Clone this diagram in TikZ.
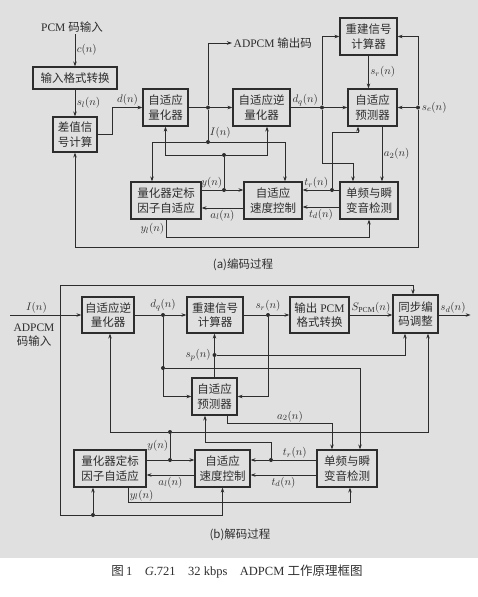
\documentclass[tikz,border=0pt]{standalone}
\usepackage{fontspec}
\setmainfont{Liberation Serif}
\newfontfamily\cn{Noto Sans CJK SC}
\usetikzlibrary{arrows.meta,positioning,calc}
\definecolor{scanbg}{RGB}{224,224,224}
\definecolor{ink}{RGB}{45,45,45}

\begin{document}
\begin{tikzpicture}[x=1pt,y=-1pt,
  blk/.style={draw=ink, line width=1.2pt, inner sep=1pt, align=center, text=ink,
    font=\cn\fontsize{11.5}{14.5}\selectfont},
  sig/.style={draw=ink, line width=0.7pt},
  arr/.style={sig, -{Stealth[length=5pt,width=3.5pt]}},
  lbl/.style={font=\fontsize{11}{13}\selectfont, text=ink, inner sep=1.5pt},
  captxt/.style={font=\cn\fontsize{11.5}{14}\selectfont, text=ink},
  jn/.style={circle, fill=ink, inner sep=0pt, minimum size=4pt}]
  \useasboundingbox (0,0) rectangle (478,597);
  \fill[scanbg] (0,0) rectangle (478,558);

  % (a) encoder
  \node[lbl, font=\fontsize{11.5}{14}\selectfont] (pcmIn) at (72,27) {PCM {\cn 码输入}};
  \node[blk, minimum width=84pt, minimum height=22pt] (inFmt) at (75,78) {输入格式转换};
  \node[blk, minimum width=44pt, minimum height=35pt] (diffCalc) at (75,134.5) {差值信\\号计算};
  \node[blk, minimum width=45pt, minimum height=37pt] (quant) at (165.5,107.5) {自适应\\量化器};
  \node[blk, minimum width=57pt, minimum height=37pt] (invQ) at (261.5,107.5) {自适应逆\\量化器};
  \node[blk, minimum width=57pt, minimum height=37pt] (recon) at (368.5,36.5) {重建信号\\计算器};
  \node[blk, minimum width=49pt, minimum height=37pt] (pred) at (372.5,107.5) {自适应\\预测器};
  \node[blk, minimum width=70pt, minimum height=37pt] (scale) at (166,200.5) {量化器定标\\因子自适应};
  \node[blk, minimum width=58pt, minimum height=37pt] (speed) at (273,200.5) {自适应\\速度控制};
  \node[blk, minimum width=58pt, minimum height=37pt] (tone) at (369,200.5) {单频与瞬\\变音检测};
  \node[lbl, font=\fontsize{11.5}{14}\selectfont, anchor=west] (adpcmOut) at (232,43) {ADPCM {\cn 输出码}};

  \node[jn] (jI) at (208,107.5) {};
  \node[jn] (jIb) at (208,142) {};
  \node[jn] (jDq) at (322,107.5) {};
  \node[jn, label={[lbl]right:$s_e(n)$}] (jSe) at (418,107.5) {};
  \node[jn] (jY) at (224,190) {};
  \node[jn] (jYb) at (224,155) {};
  \node[jn] (jTr) at (332,190) {};

  \draw[arr] (pcmIn.south -| inFmt.north) -- (inFmt.north) node[lbl, midway, right] {$c(n)$};
  \draw[arr] (inFmt.south) -- (diffCalc.north) node[lbl, midway, right] {$s_l(n)$};
  \draw[arr] (diffCalc.east) -- ++(15,0) |- (quant.west) node[lbl, pos=0.75, above] {$d(n)$};
  \draw[sig] (quant.east) -- (jI);
  \draw[arr] (jI) -- (invQ.west);
  \draw[arr] (jI) |- (adpcmOut.west);
  \draw[sig] (jI) -- (jIb) node[lbl, pos=0.75, right] {$I(n)$};
  \draw[arr] (jIb) -| ([xshift=-14pt]scale.north);
  \draw[arr] (jIb) -| ([xshift=12pt]speed.north);
  \draw[sig] (invQ.east) -- (jDq) node[lbl, midway, above] {$d_q(n)$};
  \draw[arr] (jDq) -- (pred.west);
  \draw[arr] (jDq) |- (recon.west);
  \draw[arr] (jDq) -- ++(0,55.5) -| ([xshift=-16pt]tone.north);
  \draw[arr] (recon.south) -- (recon.south |- pred.north) node[lbl, midway, right] {$s_r(n)$};
  \draw[arr] (jSe) -- (pred.east);
  \draw[arr] (jSe) |- (recon.east);
  \draw[arr] (jSe) -- ++(0,139.5) -| (diffCalc.south);
  \draw[arr] ([xshift=9.5pt]pred.south) -- ([xshift=9.5pt]pred.south |- tone.north)
    node[lbl, midway, right] {$a_2(n)$};
  \draw[sig] (scale.east |- jY) -- (jY) node[lbl, midway, above] {$y(n)$};
  \draw[arr] (jY) -- (speed.west |- jY);
  \draw[sig] (jY) -- (jYb);
  \draw[arr] (jYb) -| (quant.south);
  \draw[arr] (jYb) -| ([xshift=5.5pt]invQ.south);
  \draw[arr] ([yshift=-7.5pt]speed.west) -- ([yshift=-7.5pt]scale.east) node[lbl, midway, below] {$a_l(n)$};
  \draw[sig] (tone.west |- jTr) -- (jTr);
  \draw[arr] (jTr) -- (speed.east |- jTr) node[lbl, midway, above] {$t_r(n)$};
  \draw[arr] (jTr) -- ++(0,-58) -| ([xshift=-14.5pt]pred.south);
  \draw[arr] ([yshift=-6.5pt]tone.west) -- ([yshift=-6.5pt]speed.east) node[lbl, midway, below] {$t_d(n)$};
  \draw[arr] (scale.south) -- ++(0,18) node[lbl, midway, left] {$y_l(n)$} -| (tone.south);
  \node[captxt] (capA) at (243,265) {(a)编码过程};

  % (b) decoder
  \node[blk, minimum width=52pt, minimum height=36pt] (invQb) at (108,315) {自适应逆\\量化器};
  \node[blk, minimum width=56pt, minimum height=36pt] (reconb) at (215,315) {重建信号\\计算器};
  \node[blk, minimum width=59pt, minimum height=36pt] (outPCM) at (319.5,315) {输出{\rmfamily\ PCM}\\格式转换};
  \node[blk, minimum width=45pt, minimum height=38pt] (sync) at (415.5,314) {同步编\\码调整};
  \node[blk, minimum width=45pt, minimum height=37pt] (predb) at (214.5,396.5) {自适应\\预测器};
  \node[blk, minimum width=72pt, minimum height=37pt] (scaleb) at (110,468.5) {量化器定标\\因子自适应};
  \node[blk, minimum width=55pt, minimum height=37pt] (speedb) at (222.5,468.5) {自适应\\速度控制};
  \node[blk, minimum width=60pt, minimum height=37pt] (toneb) at (347,468.5) {单频与瞬\\变音检测};
  \node[lbl, align=center, font=\fontsize{11.5}{14}\selectfont] (adpcmIn) at (34,335) {ADPCM\\{\cn 码输入}};

  \coordinate (inb) at (10,315);
  \coordinate (jIin) at (60,315);
  \node[jn, label={[lbl]above:$d_q(n)$}] (jDqb) at (163,315) {};
  \node[jn, label={[lbl]above:$s_r(n)$}] (jSrb) at (268,315) {};
  \node[jn, label={[lbl]left:$s_p(n)$}] (jSpb) at (214.5,355) {};
  \node[jn] (jDq2) at (163,368) {};
  \node[jn] (jYb1) at (170,432) {};
  \node[jn] (jYb2) at (170,460) {};
  \node[jn] (jTrb) at (271,460) {};
  \node[jn] (jIc) at (93,515) {};

  \draw[arr] (inb) -- (invQb.west) node[lbl, pos=0.37, above] {$I(n)$};
  \draw[sig] (invQb.east) -- (jDqb);
  \draw[arr] (jDqb) -- (reconb.west);
  \draw[sig] (reconb.east) -- (jSrb);
  \draw[arr] (jSrb) -- (outPCM.west);
  \draw[arr] (outPCM.east) -- (sync.west |- outPCM.east) node[lbl, midway, above] {$S_{\mathrm{PCM}}(n)$};
  \draw[arr] (sync.east |- outPCM.east) -- ++(32,0) node[lbl, pos=0.45, above] {$s_d(n)$};
  \draw[arr] (jDqb) |- (predb.west);
  \draw[arr] (jDq2) -| ([xshift=13pt]toneb.north);
  \draw[arr] (jSrb) |- (predb.east);
  \draw[arr] (predb.north) -- (predb.north |- reconb.south);
  \draw[arr] (jSpb) -| ([xshift=-10.5pt]sync.south);
  \draw[arr] (jIin) -- ++(0,-30) -| ([xshift=-2.5pt]sync.north);
  \draw[sig] (jIin) |- (jIc);
  \draw[arr] (jIc) -- (jIc |- scaleb.south);
  \draw[arr] (jIc) -| (speedb.south);
  \draw[arr] (jYb1) -| ([xshift=12.5pt]sync.south);
  \draw[arr] (jYb1) -| ([xshift=2pt]invQb.south);
  \draw[sig] (jYb1) -- (jYb2) node[lbl, midway, left] {$y(n)$};
  \draw[sig] (scaleb.east |- jYb2) -- (jYb2);
  \draw[arr] (jYb2) -- (speedb.west |- jYb2);
  \draw[arr] ([yshift=-6.5pt]speedb.west) -- ([yshift=-6.5pt]scaleb.east) node[lbl, midway, below] {$a_l(n)$};
  \draw[arr] ([xshift=18pt]scaleb.south) -- ++(0,15) node[lbl, pos=1, above right] {$y_l(n)$} -| ([xshift=3pt]toneb.south);
  \draw[sig] (toneb.west |- jTrb) -- (jTrb) node[lbl, midway, above] {$t_r(n)$};
  \draw[arr] (jTrb) -- (speedb.east |- jTrb);
  \draw[arr] (jTrb) -- ++(0,-18) -| ([xshift=-9.5pt]predb.south);
  \draw[arr] ([yshift=-6.5pt]toneb.west) -- ([yshift=-6.5pt]speedb.east) node[lbl, midway, below] {$t_d(n)$};
  \draw[arr] ([xshift=12.5pt]predb.south) -- ++(0,8) -| ([xshift=-15pt]toneb.north) node[lbl, pos=0.3, above] {$a_2(n)$};
  \node[captxt] (capB) at (240,535) {(b)解码过程};

  \node[captxt, font=\fontsize{12.5}{15}\selectfont] (fig) at (237,572)
    {{\cn 图}\,1\quad \textit{G}.721\quad 32 kbps\quad ADPCM {\cn 工作原理框图}};
\end{tikzpicture}
\end{document}
